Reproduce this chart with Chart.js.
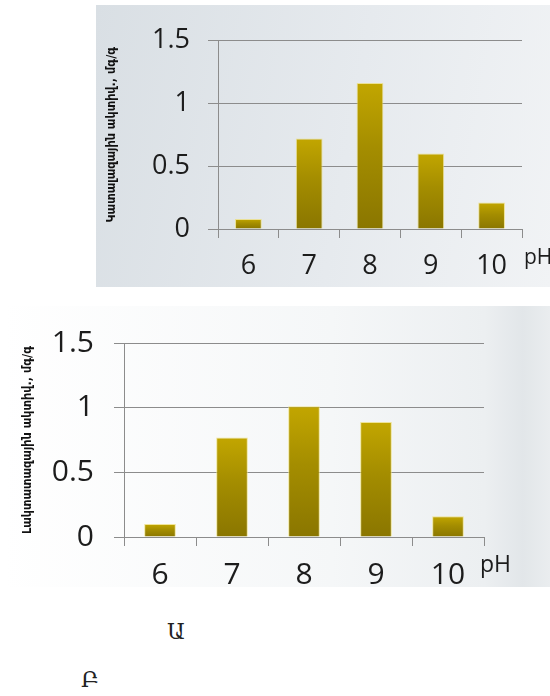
<!DOCTYPE html>
<html>
<head>
<meta charset="utf-8">
<script src="https://cdn.jsdelivr.net/npm/chart.js@4"></script>
<style>
  body { margin: 0; width: 550px; height: 696px; background: #fff; position: relative; overflow: hidden; }
  .panel { position: absolute; }
  #panelA { left: 96px; top: 5px; width: 454px; height: 282px;
    background: linear-gradient(100deg, #d9dfe4 0%, #e6eaee 55%, #f1f3f5 100%); }
  #panelB { left: 4px; top: 306px; width: 546px; height: 281px;
    background: linear-gradient(90deg, #ffffff 0%, #f5f7f8 60%, #eceff1 88%, #e2e6e9 95%, #eaedef 100%); }
  canvas { position: absolute; }
  .lbl { position: absolute; font-family: "DejaVu Serif", serif; font-size: 22px; color: #222; }
</style>
</head>
<body>
<div class="panel" id="panelA"></div>
<div class="panel" id="panelB"></div>
<canvas id="chartA" width="454" height="284" style="left:96px;top:6px"></canvas>
<canvas id="chartB" width="550" height="290" style="left:0px;top:305px"></canvas>
<div class="lbl" style="left:167px;top:619px">Ա</div>
<div class="lbl" style="left:81px;top:667px">Բ</div>
<script>
// pH արժեքներ և ակտիվություն
const phLabels = ["6", "7", "8", "9", "10"];
const activityA = [0.08, 0.72, 1.16, 0.6, 0.21];
const activityB = [0.1, 0.77, 1.01, 0.89, 0.16];
const titleA = "Կատալազային ակտիվ., մգ/գ";
const titleB = "Լակտատազային ակտիվ., մգ/գ";
const axisLabel = "pH";

const textColor = "#1c1c1c";
const lineColor = "#8c8c8c";

// ուղղահայաց գրադիենտ ամեն սյան համար
const barFill = function (context) {
  const chart = context.chart;
  const y = chart.scales.y;
  if (!chart.chartArea || !y) return "#a89000";
  const top = y.getPixelForValue(context.parsed ? context.parsed.y : 1);
  const bottom = y.getPixelForValue(0);
  const g = chart.ctx.createLinearGradient(0, top, 0, bottom);
  g.addColorStop(0, "#c2a600");
  g.addColorStop(0.45, "#a48d00");
  g.addColorStop(1, "#8a7600");
  return g;
};

const phPlugin = {
  id: "phLabel",
  afterDraw(chart, args, opts) {
    const ctx = chart.ctx;
    const area = chart.chartArea;
    ctx.save();
    ctx.font = opts.size + "px 'Open Sans'";
    ctx.fillStyle = textColor;
    ctx.textBaseline = "middle";
    ctx.textAlign = "left";
    ctx.fillText(axisLabel, area.right + opts.dx, area.bottom + opts.dy);
    ctx.restore();
  },
};

function makeChart(id, values, title, cfg) {
  return new Chart(document.getElementById(id).getContext("2d"), {
    type: "bar",
    data: {
      labels: phLabels,
      datasets: [
        {
          data: values,
          backgroundColor: barFill,
          borderColor: "rgba(236, 222, 120, 0.75)",
          borderWidth: 1,
          categoryPercentage: 1,
          barPercentage: 0.44,
        },
      ],
    },
    plugins: [phPlugin],
    options: {
      responsive: false,
      animation: false,
      devicePixelRatio: 1,
      layout: {
        padding: { left: 0, top: cfg.top, right: cfg.right, bottom: cfg.bottom },
      },
      scales: {
        x: {
          grid: {
            offset: true,
            drawOnChartArea: false,
            tickLength: 9,
            color: lineColor,
          },
          border: { display: true, color: lineColor },
          ticks: {
            color: textColor,
            padding: cfg.xPad,
            font: { family: "Open Sans", size: cfg.font },
          },
          afterFit: function (scale) {
            scale.height = cfg.xHeight;
          },
        },
        y: {
          min: 0,
          max: 1.5,
          ticks: {
            stepSize: 0.5,
            color: textColor,
            padding: cfg.yPad,
            font: { family: "Open Sans", size: cfg.font },
            callback: (v) => String(v),
          },
          grid: { color: lineColor, tickLength: 10 },
          border: { display: true, color: lineColor },
          title: {
            display: true,
            text: title,
            color: "#111",
            padding: { top: cfg.titlePad, bottom: 0 },
            font: { family: "DejaVu Sans Condensed", size: 12.5, weight: "bold" },
          },
          afterFit: function (scale) {
            scale.width = cfg.yWidth;
          },
        },
      },
      plugins: {
        legend: { display: false },
        tooltip: { enabled: false },
        phLabel: { size: cfg.phSize, dx: cfg.phDx, dy: cfg.phDy },
      },
    },
  });
}

makeChart("chartA", activityA, titleA, {
  top: 22, right: 28, bottom: 11, xHeight: 50, yWidth: 122,
  xPad: 12, yPad: 18, font: 27, titlePad: 8,
  phSize: 21, phDx: 2, phDy: 29,
});

makeChart("chartB", activityB, titleB, {
  top: 31, right: 66, bottom: 8, xHeight: 50, yWidth: 124,
  xPad: 11, yPad: 20, font: 30, titlePad: 20,
  phSize: 23, phDx: -4, phDy: 28,
});
</script>
</body>
</html>
